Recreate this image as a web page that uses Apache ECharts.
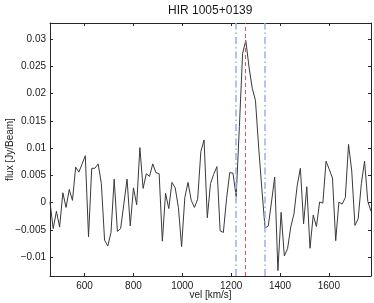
<!DOCTYPE html>
<html>
<head>
<meta charset="utf-8">
<script src="https://cdn.jsdelivr.net/npm/echarts@6/dist/echarts.min.js"></script>
<style>
html,body{margin:0;padding:0;background:#fff;}
#chart{width:374px;height:303px;}
</style>
</head>
<body>
<div id="chart"></div>
<script>
var titleText = 'HIR 1005+0139';
var xName = 'vel [km/s]';
var yName = 'flux [Jy/Beam]';

var velocity = [
  458.5, 471.6, 484.8, 497.9, 511.1, 524.2, 537.3, 550.5, 563.6, 576.8,
  589.9, 603.0, 616.2, 629.3, 642.5, 655.6, 668.7, 681.9, 695.0, 708.2,
  721.3, 734.4, 747.6, 760.7, 773.9, 787.0, 800.1, 813.3, 826.4, 839.6,
  852.7, 865.8, 879.0, 892.1, 905.3, 918.4, 931.5, 944.7, 957.8, 971.0,
  984.1, 997.2, 1010.4, 1023.5, 1036.7, 1049.8, 1062.9, 1076.1, 1089.2, 1102.4,
  1115.5, 1128.6, 1141.8, 1154.9, 1168.1, 1181.2, 1194.3, 1207.5, 1220.6, 1233.8,
  1246.9, 1260.0, 1273.2, 1286.3, 1299.5, 1312.6, 1325.7, 1338.9, 1352.0, 1365.2,
  1378.3, 1391.4, 1404.6, 1417.7, 1430.9, 1444.0, 1457.1, 1470.3, 1483.4, 1496.6,
  1509.7, 1522.8, 1536.0, 1549.1, 1562.3, 1575.4, 1588.5, 1601.7, 1614.8, 1628.0,
  1641.1, 1654.2, 1667.4, 1680.5, 1693.7, 1706.8, 1719.9, 1733.1, 1746.2, 1759.4,
  1772.5
];

var flux = [
  0.0001, -0.0048, -0.0016, -0.0045, 0.0018, -0.0009, 0.0024, 0.0004, 0.0065, 0.0056,
  0.0071, 0.0086, -0.0063, 0.0063, 0.0063, 0.0071, 0.0035, -0.0069, -0.0080, -0.0055,
  0.0043, -0.0053, -0.0048, -0.0003, 0.0043, -0.0043, 0.0027, -0.0004, 0.0101, 0.0026,
  0.0053, 0.0048, 0.0071, 0.0055, 0.0053, -0.0071, 0.0017, -0.0011, 0.0037, 0.0027,
  -0.0009, -0.0081, 0.0009, 0.0037, 0.0004, -0.0009, 0.0006, 0.0094, 0.0115, -0.0028,
  0.0035, 0.0052, 0.0066, -0.0052, -0.0055, 0.0007, 0.0055, 0.0054, 0.0011, 0.0140,
  0.0274, 0.0298, 0.0249, 0.0210, 0.0188, 0.0102, 0.0025, -0.0047, -0.0043, 0.0001,
  0.0047, -0.0125, -0.0018, -0.0098, -0.0085, -0.0045, -0.0021, 0.0031, 0.0063, -0.0039,
  0.0029, -0.0084, -0.0023, -0.0044, 0.0001, -0.0001, 0.0076, 0.0061, 0.0045, -0.0070,
  0.0001, -0.0003, 0.0009, 0.0107, 0.0058, -0.0042, -0.0030, 0.0035, 0.0076, 0.0002,
  -0.0016
];

var xTicks = [600, 800, 1000, 1200, 1400, 1600];
var yTicks = [-0.01, -0.005, 0, 0.005, 0.01, 0.015, 0.02, 0.025, 0.03];
var xRange = [458.5, 1772.5];
var yRange = [-0.0135, 0.033];
var systemicVel = [1258.5];
var windowVel = [1220, 1339];

var FONT = 'Liberation Sans, Arial, Helvetica, sans-serif';
var TXT = '#1a1a1a';
var AX = '#262626';
var RED = '#ee5050';
var BLUE = '#9cadf5';

function fmtY(v) {
  var s = String(parseFloat(Number(v).toFixed(4)));
  return s.replace('-', '\u2212');
}
function fmtX(v) {
  return String(Math.round(v));
}

var pairs = velocity.map(function (v, i) { return [v, flux[i]]; });

function vLineSeries(values, color, dash, width) {
  var ls = { color: color, width: width, type: dash, opacity: 1 };
  return {
    type: 'line',
    xAxisIndex: 0,
    yAxisIndex: 0,
    data: [],
    color: color,
    itemStyle: { color: color },
    lineStyle: { color: color },
    silent: true,
    markLine: {
      silent: true,
      symbol: ['none', 'none'],
      label: { show: false },
      itemStyle: { color: color },
      lineStyle: ls,
      emphasis: { disabled: true },
      data: values.map(function (v) {
        return { xAxis: v, lineStyle: ls, itemStyle: { color: color } };
      })
    },
    z: 1
  };
}

var chart = echarts.init(document.getElementById('chart'), null, { renderer: 'canvas' });
chart.setOption({
  animation: false,
  backgroundColor: '#ffffff',
  graphic: [{
    type: 'text',
    left: 168,
    top: 5,
    style: { text: titleText, font: '12px ' + FONT, fill: TXT }
  }],
  grid: { left: 50, right: 3, top: 23, bottom: 27, containLabel: false, outerBoundsMode: 'none' },
  xAxis: [{
    type: 'value',
    position: 'bottom',
    min: xRange[0], max: xRange[1],
    name: xName,
    nameLocation: 'middle',
    nameGap: 14,
    nameMoveOverlap: false,
    nameTextStyle: { fontFamily: FONT, fontSize: 10, color: TXT },
    axisLine: { show: true, onZero: false, lineStyle: { color: AX, width: 1 } },
    axisTick: { show: true, inside: true, length: 3, lineStyle: { color: AX }, customValues: xTicks },
    axisLabel: { show: true, margin: 5, fontFamily: FONT, fontSize: 10, color: TXT, customValues: xTicks, formatter: fmtX },
    splitLine: { show: false }
  }, {
    type: 'value',
    position: 'top',
    min: xRange[0], max: xRange[1],
    axisLine: { show: true, onZero: false, lineStyle: { color: AX, width: 1 } },
    axisTick: { show: true, inside: true, length: 3, lineStyle: { color: AX }, customValues: xTicks },
    axisLabel: { show: false },
    splitLine: { show: false }
  }],
  yAxis: [{
    type: 'value',
    position: 'left',
    min: yRange[0], max: yRange[1],
    name: yName,
    nameLocation: 'middle',
    nameGap: 35,
    nameRotate: 90,
    nameMoveOverlap: false,
    nameTextStyle: { fontFamily: FONT, fontSize: 10, color: TXT },
    axisLine: { show: true, onZero: false, lineStyle: { color: AX, width: 1 } },
    axisTick: { show: true, inside: true, length: 3, lineStyle: { color: AX }, customValues: yTicks },
    axisLabel: { show: true, margin: 4, fontFamily: FONT, fontSize: 10, color: TXT, customValues: yTicks, formatter: fmtY },
    splitLine: { show: false }
  }, {
    type: 'value',
    position: 'right',
    min: yRange[0], max: yRange[1],
    axisLine: { show: true, onZero: false, lineStyle: { color: AX, width: 1 } },
    axisTick: { show: true, inside: true, length: 3, lineStyle: { color: AX }, customValues: yTicks },
    axisLabel: { show: false },
    splitLine: { show: false }
  }],
  series: [
    vLineSeries(windowVel, BLUE, [7, 3, 1.5, 3], 1.5),
    vLineSeries(systemicVel, RED, [4, 3], 1),
    {
      type: 'line',
      xAxisIndex: 0,
      yAxisIndex: 0,
      data: pairs,
      showSymbol: false,
      symbol: 'none',
      color: '#3a3a3a',
      lineStyle: { color: '#3a3a3a', width: 1 },
      clip: true,
      z: 2
    }
  ]
});
</script>
</body>
</html>
